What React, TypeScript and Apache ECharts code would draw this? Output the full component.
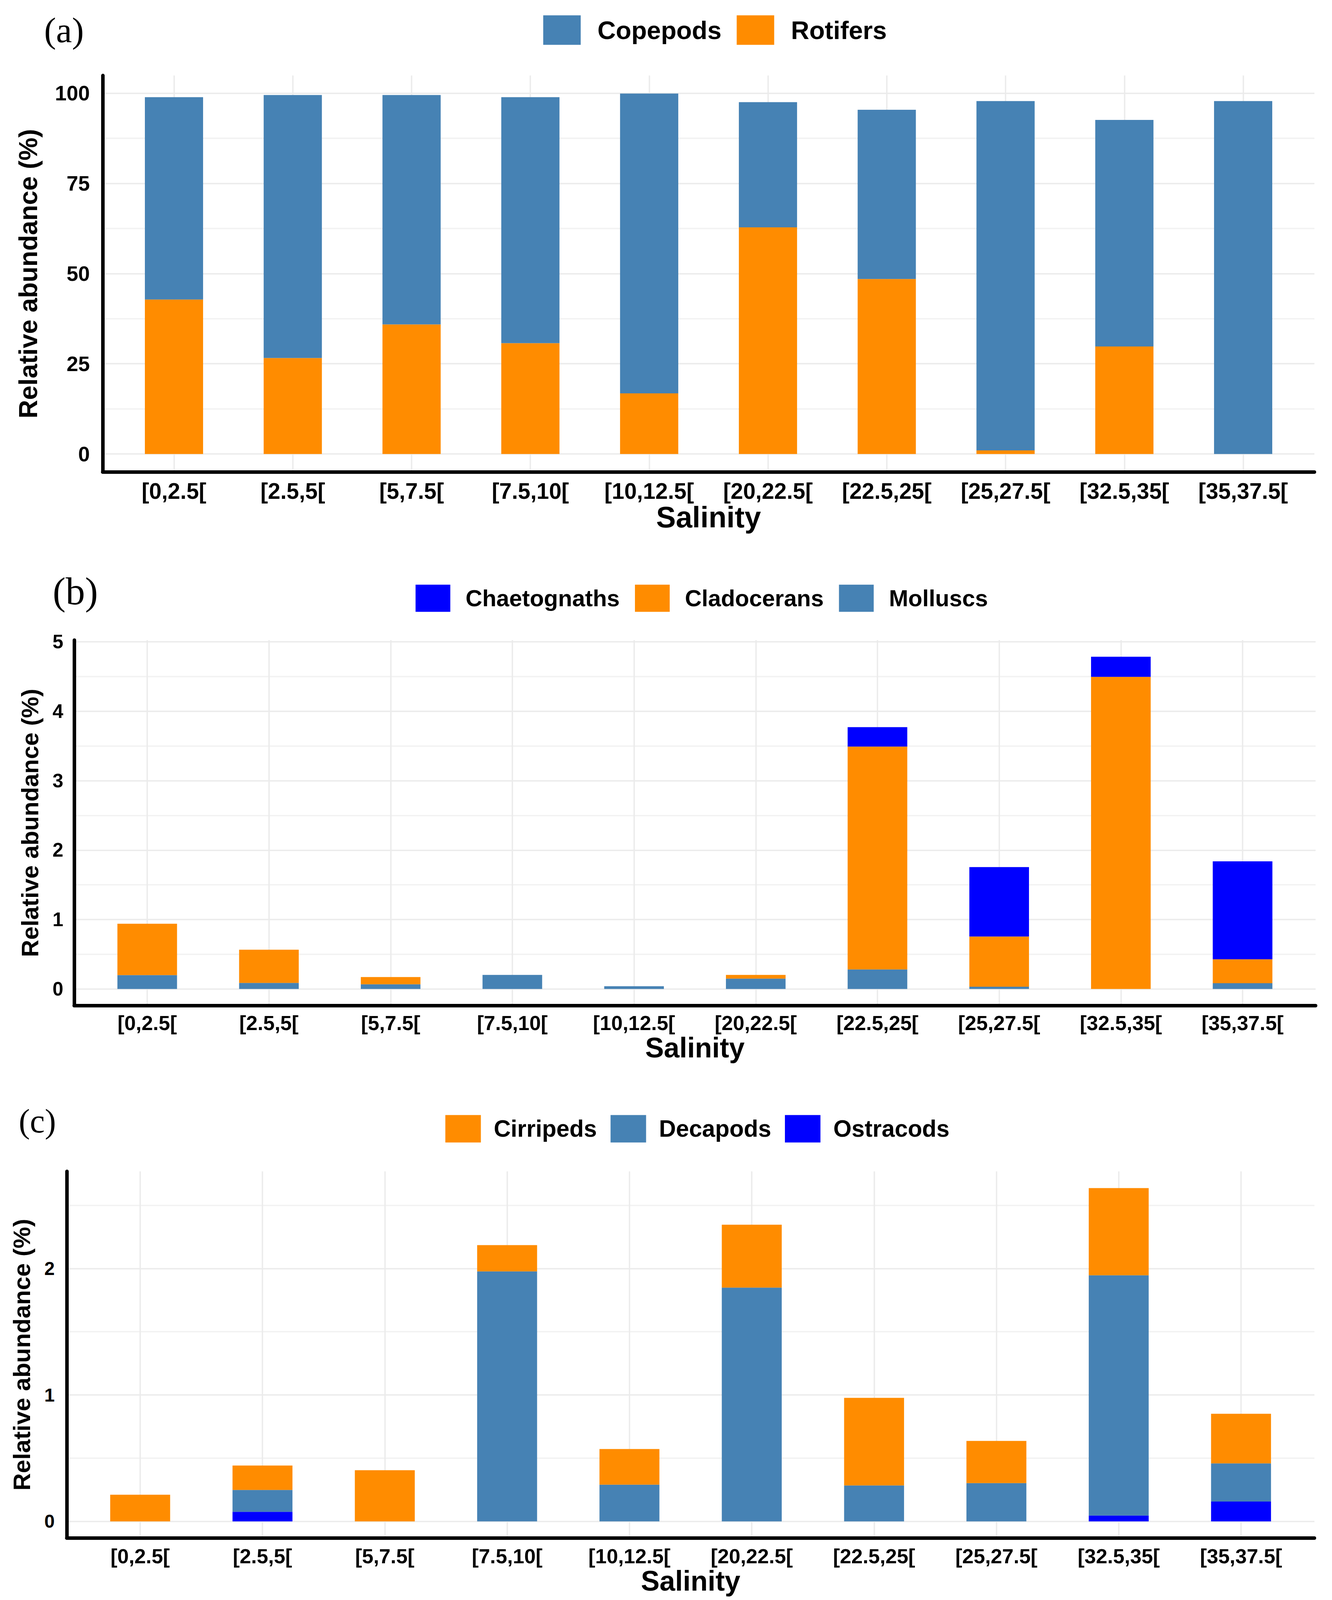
import React, { useEffect, useRef } from 'react';
import * as echarts from 'echarts';

// ---------- data ----------
const salinityClasses = ['[0,2.5[', '[2.5,5[', '[5,7.5[', '[7.5,10[', '[10,12.5[', '[20,22.5[', '[22.5,25[', '[25,27.5[', '[32.5,35[', '[35,37.5['];

// panel (a)
const rotifers = [42.8, 26.6, 35.9, 30.7, 16.8, 62.8, 48.5, 1.0, 29.8, 0];
const copepods = [56.1, 72.9, 63.6, 68.2, 83.1, 34.7, 46.9, 96.8, 62.8, 97.8];
const yTicksA = [0, 25, 50, 75, 100];
const yGridA = [0, 12.5, 25, 37.5, 50, 62.5, 75, 87.5, 100];

// panel (b)
const molluscs = [0.2, 0.087, 0.068, 0.203, 0.04, 0.149, 0.281, 0.033, 0, 0.083];
const cladocerans = [0.74, 0.479, 0.104, 0, 0, 0.054, 3.21, 0.722, 4.495, 0.345];
const chaetognaths = [0, 0, 0, 0, 0, 0, 0.28, 1.0, 0.29, 1.41];
const yTicksB = [0, 1, 2, 3, 4, 5];
const yGridB = [0, 0.5, 1, 1.5, 2, 2.5, 3, 3.5, 4, 4.5, 5];

// panel (c)
const ostracods = [0, 0.076, 0, 0, 0, 0, 0, 0, 0.046, 0.157];
const decapods = [0, 0.173, 0, 1.977, 0.29, 1.849, 0.284, 0.303, 1.9, 0.302];
const cirripeds = [0.211, 0.193, 0.405, 0.208, 0.282, 0.497, 0.693, 0.333, 0.69, 0.392];
const yTicksC = [0, 1, 2];
const yGridC = [0, 0.5, 1, 1.5, 2, 2.5];

// ---------- styles / layout (reference frame 3411 x 5424) ----------
const STEEL = '#4682B4';
const ORANGE = '#FF8C00';
const BLUE = '#0000FF';
const SANS_NAME = 'Liberation Sans';
const SANS = '"Liberation Sans", Arial, Helvetica, sans-serif';
const SERIF = '"Liberation Serif", "Times New Roman", serif';
const REF_W = 3411;
const REF_H = 5424;

const panels = [
  {
    tag: '(a)', tagX: 113, tagY: 108, tagSize: 96,
    L: 263, R: 3366, T: 256, B: 1600,
    series: [
      { name: 'Rotifers', data: rotifers, color: ORANGE },
      { name: 'Copepods', data: copepods, color: STEEL },
    ],
    legendOrder: ['Copepods', 'Rotifers'],
    lg: { center: 1831, top: 52, w: 96, h: 100, font: 68, pad: 38, gap: 39 },
    yTicks: yTicksA, yGrid: yGridA,
    yLabelSize: 56, yLabelMargin: 33, xLabelSize: 60, xLabelMargin: 35,
    yNameSize: 82, yNameGap: 150, xNameSize: 79, xNameGap: 111,
  },
  {
    tag: '(b)', tagX: 135, tagY: 2010, tagSize: 104,
    L: 190, R: 3369, T: 2170, B: 3409,
    series: [
      { name: 'Molluscs', data: molluscs, color: STEEL },
      { name: 'Cladocerans', data: cladocerans, color: ORANGE },
      { name: 'Chaetognaths', data: chaetognaths, color: BLUE },
    ],
    legendOrder: ['Chaetognaths', 'Cladocerans', 'Molluscs'],
    lg: { center: 1797, top: 1982, w: 89, h: 92, font: 62, pad: 34, gap: 39 },
    yTicks: yTicksB, yGrid: yGridB,
    yLabelSize: 52, yLabelMargin: 28, xLabelSize: 55, xLabelMargin: 31,
    yNameSize: 76, yNameGap: 75, xNameSize: 75, xNameGap: 98,
  },
  {
    tag: '(c)', tagX: 48, tagY: 3806, tagSize: 90,
    L: 171, R: 3366, T: 3971, B: 5214,
    series: [
      { name: 'Ostracods', data: ostracods, color: BLUE },
      { name: 'Decapods', data: decapods, color: STEEL },
      { name: 'Cirripeds', data: cirripeds, color: ORANGE },
    ],
    legendOrder: ['Cirripeds', 'Decapods', 'Ostracods'],
    lg: { center: 1786, top: 3780, w: 91, h: 93, font: 63, pad: 28, gap: 35 },
    yTicks: yTicksC, yGrid: yGridC,
    yLabelSize: 50, yLabelMargin: 31, xLabelSize: 55, xLabelMargin: 33,
    yNameSize: 77, yNameGap: 77, xNameSize: 75, xNameGap: 97,
  },
];

let measureCtx: CanvasRenderingContext2D | null = null;
function textWidth(text: string, size: number) {
  if (!measureCtx) measureCtx = document.createElement('canvas').getContext('2d');
  if (!measureCtx) return text.length * size * 0.6;
  measureCtx.font = `bold ${size}px "${SANS_NAME}", Arial, sans-serif`;
  return measureCtx.measureText(text).width;
}

function buildOption(sy: number) {
  const fsH = Math.min(1, sy + 0.2); // font scale for horizontally laid-out texts
  const fsV = Math.min(1, sy + 0.05); // font scale for the rotated axis titles
  const grid: any[] = [];
  const xAxis: any[] = [];
  const yAxis: any[] = [];
  const series: any[] = [];
  const legend: any[] = [];
  const graphic: any[] = [];
  const catIdx = salinityClasses.map((_, i) => i);

  panels.forEach((p, k) => {
    const totals = salinityClasses.map((_, i) => p.series.reduce((s, se) => s + se.data[i], 0));
    const maxT = Math.max(...totals);
    const yMin = -0.05 * maxT;
    const yMax = 1.05 * maxT;
    const W = p.R - p.L;
    const top = p.T * sy;
    const H = (p.B - p.T) * sy;
    const dec = 2 * k;
    const bar = 2 * k + 1;

    const xLabelSize = p.xLabelSize * fsH;
    const xLabelMargin = (p.xLabelMargin + p.xLabelSize / 2) * sy - xLabelSize / 2;
    const xNameSize = p.xNameSize * fsH;
    const xNameGap = (p.xNameGap + p.xNameSize / 2) * sy - xNameSize / 2;
    const yLabelSize = p.yLabelSize * fsH;
    const yNameSize = p.yNameSize * fsV;
    const yNameGap = p.yNameGap + (p.yNameSize - yNameSize) / 2;

    grid.push({ left: p.L, top, width: W, height: H, containLabel: false });
    grid.push({ left: p.L + (W * 0.1) / 10.2, top, width: (W * 10) / 10.2, height: H, containLabel: false });

    xAxis.push({
      type: 'value', gridIndex: dec, min: -0.6, max: 9.6,
      axisLine: { show: true, onZero: false, lineStyle: { color: '#000', width: 9 } },
      axisTick: { show: false, customValues: catIdx },
      axisLabel: {
        customValues: catIdx,
        formatter: (v: number) => salinityClasses[Math.round(v)] ?? '',
        fontSize: xLabelSize, fontWeight: 'bold', color: '#000', fontFamily: SANS, margin: xLabelMargin,
      },
      splitLine: { show: true, lineStyle: { color: '#EBEBEB', width: 3.5 } },
      name: 'Salinity', nameLocation: 'middle', nameGap: xNameGap,
      nameTextStyle: { fontSize: xNameSize, fontWeight: 'bold', color: '#000', fontFamily: SANS },
    });
    xAxis.push({ type: 'category', gridIndex: bar, data: salinityClasses, show: false });

    yAxis.push({
      type: 'value', gridIndex: dec, min: yMin, max: yMax,
      axisLine: { show: true, onZero: false, lineStyle: { color: '#000', width: 9 } },
      axisTick: { show: false, customValues: p.yGrid },
      axisLabel: {
        customValues: p.yTicks,
        formatter: (v: number) => String(v),
        fontSize: yLabelSize, fontWeight: 'bold', color: '#000', fontFamily: SANS, margin: p.yLabelMargin,
      },
      splitLine: { show: true, lineStyle: { color: ['#EBEBEB', '#F2F2F2'], width: 3.5 } },
      name: 'Relative abundance (%)', nameLocation: 'middle', nameRotate: 90, nameGap: yNameGap,
      nameTextStyle: { fontSize: yNameSize, fontWeight: 'bold', color: '#000', fontFamily: SANS },
    });
    yAxis.push({ type: 'value', gridIndex: bar, min: yMin, max: yMax, show: false });

    p.series.forEach((se) => {
      series.push({
        type: 'bar', name: se.name, xAxisIndex: bar, yAxisIndex: bar, stack: 'panel' + k,
        barWidth: '49%', data: se.data, itemStyle: { color: se.color }, emphasis: { disabled: true },
      });
    });

    const lgFont = p.lg.font * fsH;
    const lgW = p.lg.w;
    const lgH = p.lg.h * sy;
    const lgPad = p.lg.pad;
    const lgGap = p.lg.gap;
    const totalW =
      p.legendOrder.reduce((s, n) => s + lgW + 5 + lgPad + textWidth(n, lgFont), 0) +
      lgGap * (p.legendOrder.length - 1);
    const lgCenterY = (p.lg.top + p.lg.h / 2) * sy;
    legend.push({
      data: p.legendOrder, left: p.lg.center - totalW / 2, top: lgCenterY - lgH / 2, orient: 'horizontal',
      itemWidth: lgW, itemHeight: lgH, itemGap: lgGap, icon: 'rect', padding: 0,
      selectedMode: false,
      textStyle: { fontSize: lgFont, fontWeight: 'bold', color: '#000', fontFamily: SANS, padding: [0, 0, 0, lgPad] },
    });

    const tagSize = p.tagSize * fsH;
    graphic.push({
      type: 'text', left: p.tagX, top: p.tagY * sy - tagSize * 0.55,
      style: { text: p.tag, fontSize: tagSize, fontFamily: SERIF, fill: '#000' },
    });
  });

  return {
    animation: false,
    backgroundColor: '#ffffff',
    grid, xAxis, yAxis, series, legend, graphic,
  };
}

export default function App() {
  const ref = useRef<HTMLDivElement>(null);
  const height = Math.min(REF_H, typeof window !== 'undefined' && window.innerHeight ? window.innerHeight : REF_H);
  useEffect(() => {
    if (!ref.current) return;
    const chart = echarts.init(ref.current, undefined, { renderer: 'svg' });
    chart.setOption(buildOption(height / REF_H) as any);
    return () => chart.dispose();
  }, [height]);
  return (
    <div
      ref={ref}
      style={{ position: 'absolute', left: 0, top: 0, width: REF_W, height, background: '#fff' }}
    />
  );
}
